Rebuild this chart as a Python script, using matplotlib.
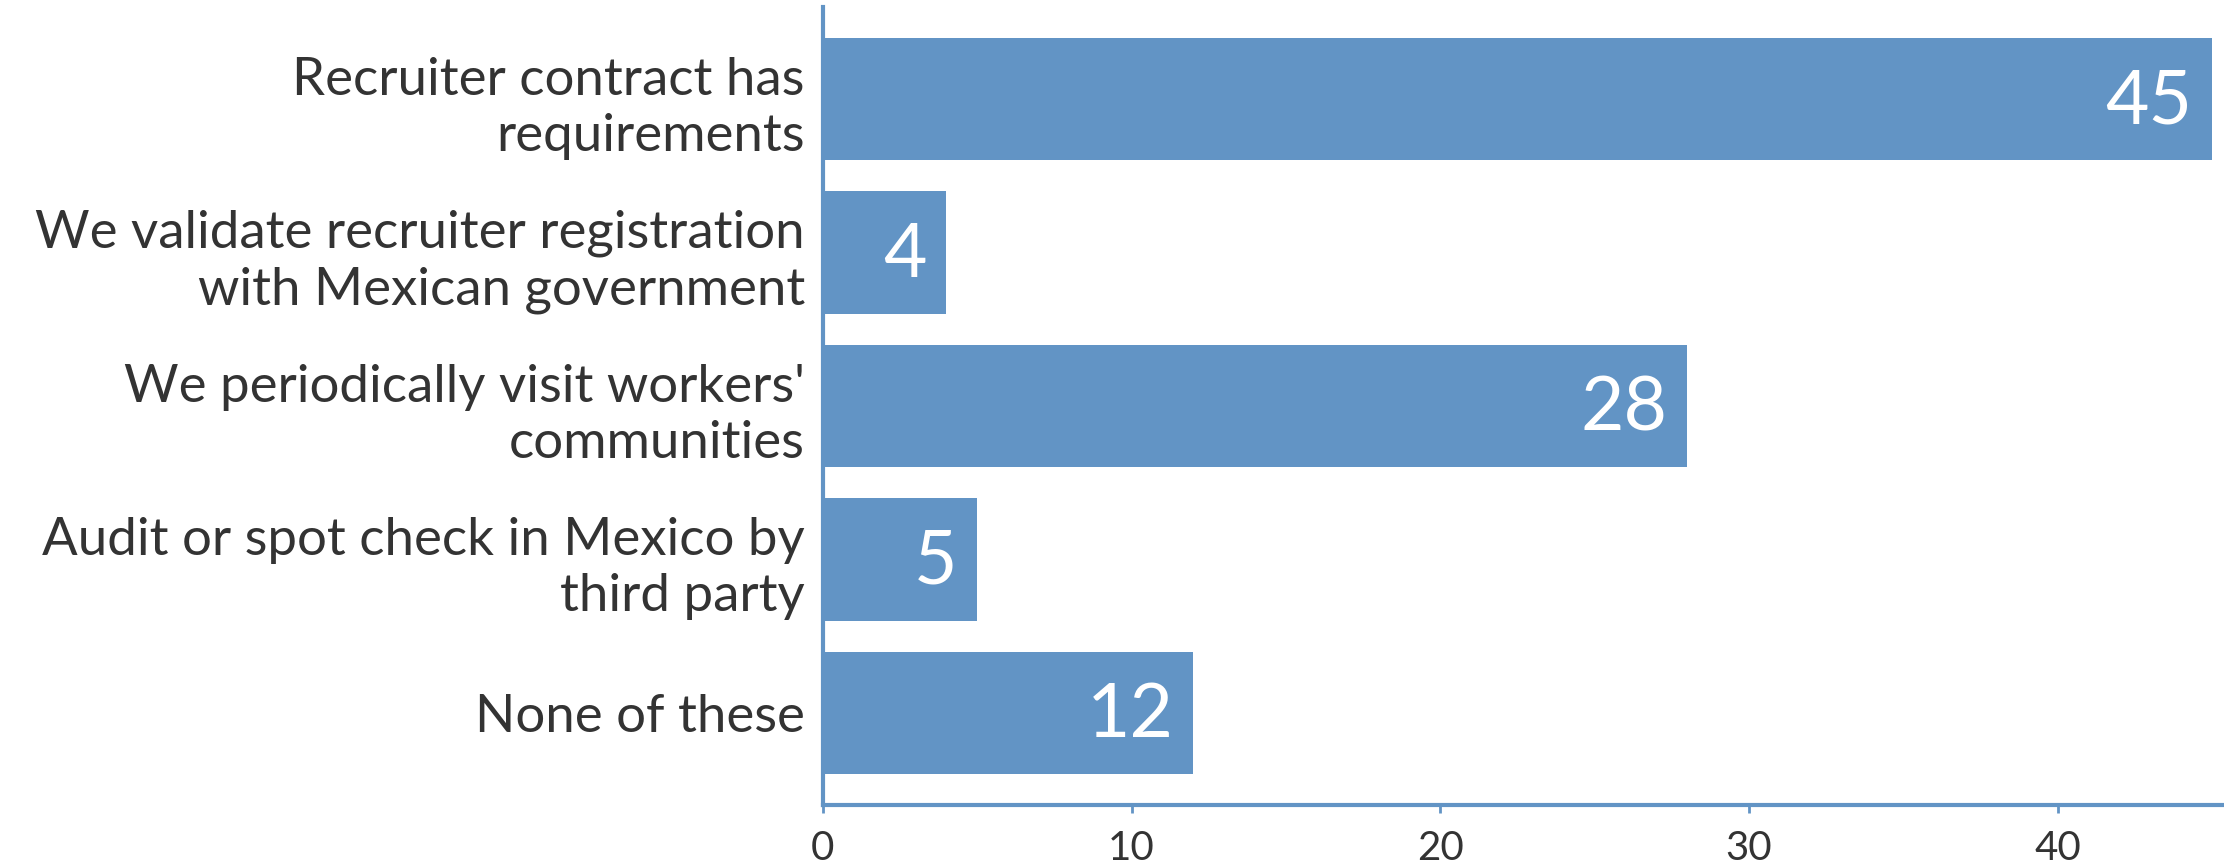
import matplotlib
matplotlib.use("Agg")
import matplotlib.pyplot as plt

categories = [
    "Recruiter contract has\nrequirements",
    "We validate recruiter registration\nwith Mexican government",
    "We periodically visit workers'\ncommunities",
    "Audit or spot check in Mexico by\nthird party",
    "None of these",
]
counts = [45, 4, 28, 5, 12]
xticks = [0, 10, 20, 30, 40]

bar_color = "#6294c5"
text_color = "#333333"
plt.rcParams["font.family"] = ["Lato", "DejaVu Sans"]

fig = plt.figure(figsize=(22.24, 8.66), dpi=100)
ax = fig.add_axes([0.370, 0.0704, 0.630, 0.9215])

# first category at the top
ypos = list(range(len(categories)))[::-1]
bars = ax.barh(ypos, counts, height=0.8, color=bar_color)

ax.set_xlim(0, 45.39)
ax.set_ylim(-0.6, len(categories) - 0.4)

ax.set_yticks(ypos)
ax.set_yticklabels(categories, fontsize=38, color=text_color, ha="right",
                   linespacing=1.25)
ax.tick_params(axis="y", length=0, pad=13)

ax.set_xticks(xticks)
ax.set_xticklabels([str(t) for t in xticks], fontsize=29, color=text_color)
ax.tick_params(axis="x", length=6, width=2, color=bar_color, pad=12)

for side in ("top", "right"):
    ax.spines[side].set_visible(False)
for side in ("left", "bottom"):
    ax.spines[side].set_color(bar_color)
    ax.spines[side].set_linewidth(3)

for y, v in zip(ypos, counts):
    ax.annotate(str(v), xy=(v, y), xytext=(-14, -2), textcoords="offset points",
                ha="right", va="center", fontsize=54, color="white")

fig.savefig("out.png", dpi=100)
